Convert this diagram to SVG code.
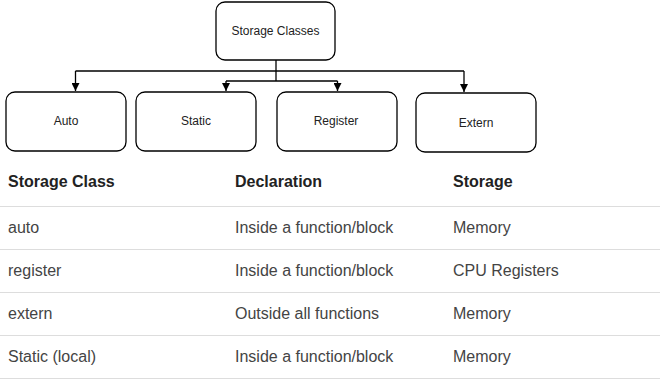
<svg xmlns="http://www.w3.org/2000/svg" width="670" height="390" viewBox="0 0 670 390">
  <style>
    .node rect { fill: #ffffff; stroke: #000000; stroke-width: 1.3; }
    .node text { font-family: "Liberation Sans", Arial, sans-serif; font-size: 12px; fill: #222222; text-anchor: middle; }
    .wire { fill: none; stroke: #000000; stroke-width: 1.3; }
    .th { font-family: "Liberation Sans", Arial, sans-serif; font-size: 16px; font-weight: bold; fill: #222222; }
    .td { font-family: "Liberation Sans", Arial, sans-serif; font-size: 16px; fill: #444444; }
    .rule { stroke: #dddddd; stroke-width: 1; }
  </style>
  <defs>
    <marker id="arrow" viewBox="0 0 10 10" refX="10" refY="5" markerWidth="8" markerHeight="8" markerUnits="userSpaceOnUse" orient="auto">
      <path d="M0,0 L10,5 L0,10 z" fill="#000000"/>
    </marker>
  </defs>
  <rect width="670" height="390" fill="#ffffff"/>

  <!-- tree nodes -->
  <g id="storage-classes" class="node">
    <rect x="216" y="2" width="119" height="58" rx="9"/>
    <text x="275.5" y="35">Storage Classes</text>
  </g>
  <g id="auto" class="node">
    <rect x="6" y="92" width="120" height="59" rx="9"/>
    <text x="66" y="125">Auto</text>
  </g>
  <g id="static" class="node">
    <rect x="136" y="92" width="120" height="59" rx="9"/>
    <text x="196" y="125">Static</text>
  </g>
  <g id="register" class="node">
    <rect x="277" y="92" width="120" height="59" rx="9"/>
    <text x="336" y="125">Register</text>
  </g>
  <g id="extern" class="node">
    <rect x="416" y="93" width="120" height="59" rx="9"/>
    <text x="476" y="127">Extern</text>
  </g>

  <!-- connectors -->
  <g id="connectors">
    <path class="wire" d="M276,60 V81"/>
    <path class="wire" d="M75.5,71 H464"/>
    <path class="wire" d="M75.5,71 V91" marker-end="url(#arrow)"/>
    <path class="wire" d="M464,71 V92" marker-end="url(#arrow)"/>
    <path class="wire" d="M226,81 H337.5"/>
    <path class="wire" d="M226,81 V91" marker-end="url(#arrow)"/>
    <path class="wire" d="M337.5,81 V91" marker-end="url(#arrow)"/>
  </g>

  <!-- table -->
  <g id="table">
    <text class="th" x="8" y="187">Storage Class</text>
    <text class="th" x="235" y="187">Declaration</text>
    <text class="th" x="453" y="187">Storage</text>
    <line class="rule" x1="0" y1="206.5" x2="660" y2="206.5"/>

    <text class="td" x="8" y="233">auto</text>
    <text class="td" x="235" y="233">Inside a function/block</text>
    <text class="td" x="453" y="233">Memory</text>
    <line class="rule" x1="0" y1="249.5" x2="660" y2="249.5"/>

    <text class="td" x="8" y="276">register</text>
    <text class="td" x="235" y="276">Inside a function/block</text>
    <text class="td" x="453" y="276">CPU Registers</text>
    <line class="rule" x1="0" y1="292.5" x2="660" y2="292.5"/>

    <text class="td" x="8" y="319">extern</text>
    <text class="td" x="235" y="319">Outside all functions</text>
    <text class="td" x="453" y="319">Memory</text>
    <line class="rule" x1="0" y1="335.5" x2="660" y2="335.5"/>

    <text class="td" x="8" y="362">Static (local)</text>
    <text class="td" x="235" y="362">Inside a function/block</text>
    <text class="td" x="453" y="362">Memory</text>
    <line class="rule" x1="0" y1="378.5" x2="660" y2="378.5"/>
  </g>
</svg>
